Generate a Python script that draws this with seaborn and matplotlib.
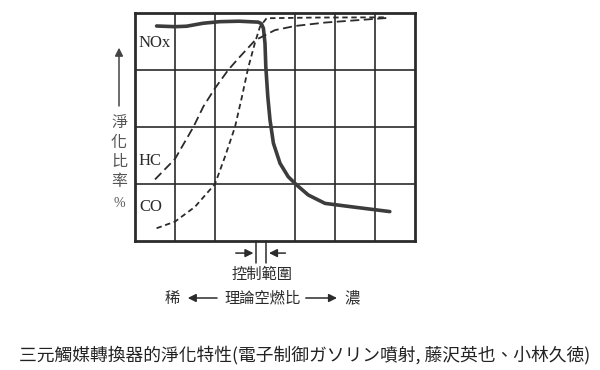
import numpy as np
import pandas as pd
import matplotlib.pyplot as plt
import seaborn as sns

# abstract air-fuel ratio axis (0 = lean side, 7 = rich side), purification ratio in %
nox_x = [0.54, 1.0, 1.29, 1.7, 2.12, 2.6, 3.08, 3.16, 3.21, 3.25, 3.27, 3.32, 3.375, 3.46,
         3.625, 3.83, 4.04, 4.33, 4.75, 5.46, 6.37]
nox_y = [94.3, 94.0, 94.2, 95.5, 96.2, 96.4, 96.0, 95.3, 93.3, 86.7, 76.5, 63.3, 53.1, 42.9,
         34.1, 28.2, 24.6, 20.2, 16.5, 14.9, 12.9]

hc_x = [0.5, 1.0, 1.46, 1.71, 2.0, 2.33, 2.58, 3.0, 3.5, 4.0, 4.75, 6.29]
hc_y = [27, 36, 50, 59, 67, 75, 80, 88, 92.5, 94.3, 95.8, 97.8]

co_x = [0.54, 1.0, 1.5, 2.0, 2.25, 2.5, 2.67, 2.83, 3.0, 3.125, 3.29, 4.5, 6.29]
co_y = [5.6, 8.5, 15, 25, 37, 50, 63, 76, 87, 94, 97.7, 98, 98.1]

gas_labels = ["NOx", "HC", "CO"]
grid_x = [1, 2, 4, 5, 6]
grid_y = [25, 50, 75]

caption = "三元觸媒轉換器的淨化特性(電子制御ガソリン噴射, 藤沢英也、小林久徳)"

sns.set_theme(style="white")
plt.rcParams["font.family"] = ["Noto Sans CJK TC", "DejaVu Sans"]

INK = "#2b2b2b"

fig = plt.figure(figsize=(6, 3.7), dpi=100)
ax = fig.add_axes([135 / 600, 1 - 241 / 370, 280 / 600, 228 / 370])

sns.lineplot(x=nox_x, y=nox_y, ax=ax, color="#3c3c3c", linewidth=2.6, sort=False)
sns.lineplot(x=hc_x, y=hc_y, ax=ax, color=INK, linewidth=1.3, linestyle=(0, (5, 2.5)), sort=False)
sns.lineplot(x=co_x, y=co_y, ax=ax, color=INK, linewidth=1.3, linestyle=(0, (3, 2)), sort=False)

ax.set_xlim(0, 7)
ax.set_ylim(0, 100)
ax.set_xticks(grid_x)
ax.set_yticks(grid_y)
ax.set_xticklabels([])
ax.set_yticklabels([])
ax.tick_params(length=0)
ax.grid(True, color=INK, linewidth=1.2)
for s in ax.spines.values():
    s.set_visible(True)
    s.set_color(INK)
    s.set_linewidth(2)

for lab, yy in zip(gas_labels, [87, 35, 15]):
    ax.text(0.1, yy, lab, family="Liberation Serif", fontsize=12, color=INK, va="center", ha="left")

# y label with upward arrow
ax.annotate("", xy=(-0.4, 86), xytext=(-0.4, 58), xycoords="data",
            arrowprops=dict(arrowstyle="-|>", color="#444", lw=1.1), annotation_clip=False)
ax.text(-0.4, 39, "淨\n化\n比\n率", fontsize=11.5, color="#555", ha="center", va="center", linespacing=1.2)
ax.text(-0.4, 16.5, "%", family="Liberation Serif", fontsize=10, color="#555", ha="center", va="center")

# control range
for xc in [3.03, 3.28]:
    ax.plot([xc, xc], [0, -9.5], color=INK, lw=1.1, clip_on=False)
ax.annotate("", xy=(3.03, -5.3), xytext=(2.45, -5.3),
            arrowprops=dict(arrowstyle="-|>", color=INK, lw=1.1), annotation_clip=False)
ax.annotate("", xy=(3.28, -5.3), xytext=(3.83, -5.3),
            arrowprops=dict(arrowstyle="-|>", color=INK, lw=1.1), annotation_clip=False)
ax.text(3.17, -14.5, "控制範圍", fontsize=11, color=INK, ha="center", va="center")

# lean <- stoichiometric A/F -> rich
ax.text(0.93, -25, "稀", fontsize=11, color=INK, ha="center", va="center")
ax.annotate("", xy=(1.25, -25), xytext=(2.12, -25),
            arrowprops=dict(arrowstyle="-|>", color=INK, lw=1.1), annotation_clip=False)
ax.text(3.2, -25, "理論空燃比", fontsize=11, color=INK, ha="center", va="center")
ax.annotate("", xy=(5.12, -25), xytext=(4.2, -25),
            arrowprops=dict(arrowstyle="-|>", color=INK, lw=1.1), annotation_clip=False)
ax.text(5.43, -25, "濃", fontsize=11, color=INK, ha="center", va="center")

fig.text(0.508, 1 - 355 / 370, caption, fontsize=12.8, color="#222", ha="center", va="center")

fig.savefig("out.png", dpi=100, facecolor="white")
plt.close(fig)
